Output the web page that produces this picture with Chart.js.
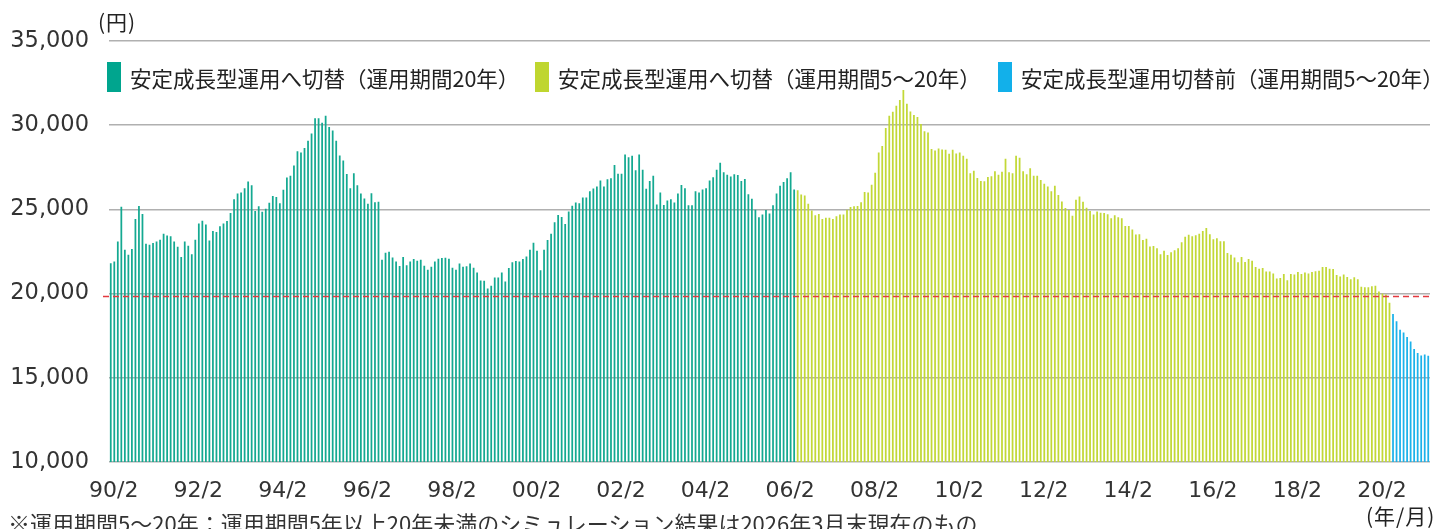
<!DOCTYPE html>
<html lang="ja">
<head>
<meta charset="utf-8">
<title>安定成長型運用 シミュレーション</title>
<script src="https://cdn.jsdelivr.net/npm/chart.js@4.4.1/dist/chart.umd.min.js"></script>
<style>
    body { margin: 0; background: #fff; }
    #wrap { position: relative; width: 1439px; height: 529px; overflow: hidden; font-family: "Noto Sans CJK JP", sans-serif; color: #222; }
    #chartBox { position: absolute; left: 0; top: 0; width: 1439px; height: 529px; }
    .unit { position: absolute; font-size: 21px; line-height: 24px; white-space: nowrap; letter-spacing: 1px; }
    .legend-item { position: absolute; top: 62px; height: 30px; display: flex; align-items: center; font-size: 21.5px; white-space: nowrap; }
    .swatch { display: inline-block; width: 14px; height: 30px; margin-right: 9px; }
    .note { position: absolute; left: 8px; top: 509px; font-size: 22px; line-height: 26px; white-space: nowrap; color: #333; }
</style>
</head>
<body>
<div id="wrap">
    <div id="chartBox"><canvas id="simChart"></canvas></div>
    <div class="unit" style="left:98px; top:9px;">(円)</div>
    <div class="unit" style="left:1366px; top:503px;">(年/月)</div>
    <div class="legend-item" style="left:107px;"><span class="swatch" style="background:#00a58e"></span>安定成長型運用へ切替（運用期間20年）</div>
    <div class="legend-item" style="left:535px;"><span class="swatch" style="background:#bfd62f"></span>安定成長型運用へ切替（運用期間5～20年）</div>
    <div class="legend-item" style="left:998px;"><span class="swatch" style="background:#12b0ea"></span>安定成長型運用切替前（運用期間5～20年）</div>
    <div class="note">※運用期間5～20年：運用期間5年以上20年未満のシミュレーション結果は2026年3月末現在のもの</div>
</div>
<script>
// --- Data (monthly from 1990/2) ---
const startYear = 1990;
const startMonth = 2;
const tickLabels = ['90/2', '92/2', '94/2', '96/2', '98/2', '00/2', '02/2', '04/2', '06/2', '08/2', '10/2', '12/2', '14/2', '16/2', '18/2', '20/2'];
const yTicks = [10000, 15000, 20000, 25000, 30000, 35000];
const redLineValue = 19850;

// 安定成長型運用へ切替（運用期間20年）
const tealValues = [
    21800, 21900, 23100, 25150, 22600, 22300, 22650, 24430, 25200, 24730, 22960, 22900, 23000, 23100, 23200, 23550,
    23450, 23400, 23100, 22780, 22170, 23100, 22840, 22330, 23200, 24170, 24330, 24100, 23150, 23720, 23660, 24000,
    24170, 24310, 24780, 25610, 25940, 26000, 26260, 26650, 26430, 24900, 25180, 24860, 25040, 25390, 25790, 25730,
    25370, 26160, 26890, 27000, 27600, 28460, 28380, 28640, 29070, 29500, 30420, 30420, 30150, 30560, 29900, 29680,
    29070, 28200, 27910, 27100, 26260, 27140, 26430, 25940, 25650, 25330, 25960, 25430, 25450, 22010, 22430, 22480,
    22150, 21900, 21640, 22170, 21680, 21900, 22050, 21950, 22010, 21660, 21420, 21600, 21910, 22070, 22110, 22130,
    22070, 21540, 21420, 21780, 21600, 21620, 21780, 21540, 21250, 20780, 20760, 20300, 20460, 20950, 20950, 21250,
    20720, 21520, 21860, 21930, 21900, 22050, 22210, 22600, 23020, 22540, 21380, 22600, 23190, 23550, 24230, 24670,
    24550, 24140, 24880, 25220, 25410, 25370, 25710, 25710, 26080, 26240, 26360, 26710, 26360, 26790, 26850, 27630,
    27120, 27120, 28260, 28090, 28180, 27320, 28260, 27360, 26220, 26690, 27000, 25290, 26000, 25260, 25530, 25610,
    25410, 25940, 26450, 26260, 25240, 25240, 26080, 26000, 26180, 26260, 26710, 26910, 27360, 27770, 27200, 27060,
    26950, 27080, 27040, 26690, 26810, 25900, 25630, 24980, 24530, 24690, 24960, 24760, 25240, 25940, 26410, 26630,
    26850, 27200, 26180
];

// 安定成長型運用へ切替（運用期間5～20年）
const greenValues = [
    26140, 25880, 25830, 25330, 24940, 24650, 24720, 24430, 24510, 24510, 24430, 24590, 24690, 24690, 24980, 25140,
    25180, 25200, 25430, 26040, 26000, 26470, 27180, 28380, 28770, 29830, 30560, 30800, 31150, 31500, 32090, 31270,
    30820, 30600, 30480, 30070, 29640, 29560, 28580, 28500, 28620, 28560, 28540, 28300, 28540, 28320, 28380, 28180,
    28010, 27140, 27300, 26870, 26690, 26670, 26930, 26970, 27260, 27060, 27240, 28010, 27200, 27140, 28180, 28070,
    27260, 27080, 27440, 27000, 27000, 26750, 26530, 26360, 26080, 26410, 25860, 25470, 25080, 24960, 24630, 25570,
    25770, 25450, 25100, 24900, 24690, 24880, 24800, 24780, 24710, 24470, 24650, 24530, 24470, 24020, 24020, 23800,
    23510, 23530, 23190, 23250, 22800, 22820, 22700, 22330, 22540, 22290, 22450, 22580, 22700, 23050, 23370, 23490,
    23410, 23470, 23550, 23720, 23900, 23530, 23230, 23290, 23110, 23110, 22410, 22310, 22150, 21860, 22170, 21880,
    22050, 21950, 21580, 21480, 21520, 21310, 21310, 21190, 20890, 20930, 21170, 20800, 21170, 21130, 21290, 21170,
    21250, 21190, 21290, 21320, 21360, 21580, 21580, 21480, 21460, 21110, 21010, 21130, 20990, 20850, 20970, 20850,
    20400, 20380, 20380, 20440, 20460, 20130, 20010, 19950, 19460
];

// 安定成長型運用切替前（運用期間5～20年）
const blueValues = [18790, 18360, 17850, 17690, 17420, 17160, 16710, 16470, 16330, 16390, 16310];

// --- Build month categories and padded series ---
const total = tealValues.length + greenValues.length + blueValues.length;
const months = [];
for (let i = 0; i < total; i++) {
    const t = startMonth - 1 + i;
    const y = startYear + Math.floor(t / 12);
    months.push(String(y % 100).padStart(2, '0') + '/' + (t % 12 + 1));
}
const pad = n => Array(n).fill(null);
const tealSeries = tealValues.concat(pad(greenValues.length + blueValues.length));
const greenSeries = pad(tealValues.length).concat(greenValues, pad(blueValues.length));
const blueSeries = pad(tealValues.length + greenValues.length).concat(blueValues);

// dashed red reference line
const redLine = {
    id: 'redLine',
    afterDatasetsDraw(chart) {
        const { ctx, chartArea, scales } = chart;
        const y = Math.round(scales.y.getPixelForValue(redLineValue)) + 0.5;
        ctx.save();
        ctx.strokeStyle = '#e3393f';
        ctx.lineWidth = 1.3;
        ctx.setLineDash([6, 4]);
        ctx.beginPath();
        ctx.moveTo(chartArea.left - 6, y);
        ctx.lineTo(chartArea.right, y);
        ctx.stroke();
        ctx.restore();
    }
};

const barStyle = { grouped: false, barPercentage: 0.5, categoryPercentage: 1.0, borderWidth: 0 };

new Chart(document.getElementById('simChart'), {
    type: 'bar',
    data: {
        labels: months,
        datasets: [
            { label: '安定成長型運用へ切替（運用期間20年）', data: tealSeries, backgroundColor: '#14a991', ...barStyle },
            { label: '安定成長型運用へ切替（運用期間5～20年）', data: greenSeries, backgroundColor: '#c2d837', ...barStyle },
            { label: '安定成長型運用切替前（運用期間5～20年）', data: blueSeries, backgroundColor: '#1cb2ea', ...barStyle }
        ]
    },
    options: {
        responsive: true,
        maintainAspectRatio: false,
        animation: false,
        layout: { padding: { top: 41, right: 9, left: 0, bottom: 0 } },
        plugins: { legend: { display: false }, tooltip: { enabled: false } },
        scales: {
            x: {
                grid: { display: false },
                border: { display: false },
                ticks: {
                    autoSkip: false,
                    maxRotation: 0,
                    padding: 8,
                    labelOffset: 3,
                    color: '#333',
                    font: { family: 'DejaVu Sans', size: 22 },
                    callback(value) {
                        const lab = this.getLabelForValue(value);
                        return tickLabels.includes(lab) ? lab : null;
                    }
                },
                afterFit(scale) { scale.height = 67; }
            },
            y: {
                min: 10000,
                max: 35000,
                z: 1,
                afterBuildTicks(scale) { scale.ticks = yTicks.map(v => ({ value: v })); },
                grid: { color: '#b0b0b0', lineWidth: 1.4, drawTicks: false },
                border: { display: false },
                ticks: {
                    padding: 20,
                    color: '#333',
                    font: { family: 'DejaVu Sans', size: 22.5 },
                    callback: v => v.toLocaleString('en-US')
                },
                afterFit(scale) { scale.width = 109; }
            }
        }
    },
    plugins: [redLine]
});
</script>
</body>
</html>
